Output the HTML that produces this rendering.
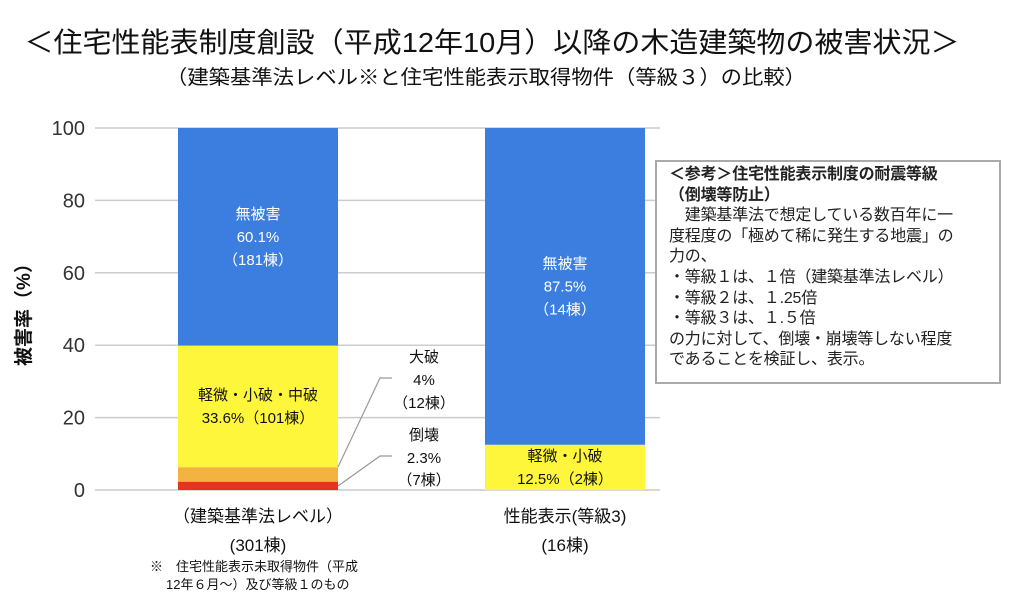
<!DOCTYPE html>
<html><head><meta charset="utf-8">
<style>
body{margin:0;width:1024px;height:606px;background:#fff;overflow:hidden;font-family:"Liberation Sans","Noto Sans CJK JP",sans-serif;}
svg text{font-family:"Liberation Sans","Noto Sans CJK JP",sans-serif;}
#note{position:absolute;left:655px;top:160px;width:346px;height:224px;border:2px solid #aaa;background:#fff;padding:3px 0 0 12px;box-sizing:border-box;font-size:16px;line-height:20.6px;color:#222;letter-spacing:-0.2px;}
</style></head><body>
<svg id="chart" width="1024" height="606" style="position:absolute;left:0;top:0">
<text x="492" y="52" font-size="28" text-anchor="middle" fill="#111" textLength="935" lengthAdjust="spacingAndGlyphs">＜住宅性能表制度創設（平成12年10月）以降の木造建築物の被害状況＞</text>
<text x="486" y="84" font-size="20" text-anchor="middle" fill="#111" textLength="640" lengthAdjust="spacingAndGlyphs">（建築基準法レベル※と住宅性能表示取得物件（等級３）の比較）</text>
<text transform="translate(30,310) rotate(-90)" font-size="19" font-weight="bold" text-anchor="middle" fill="#111">被害率（%）</text>
<g id="grid"></g><g id="bars"></g>
<polyline points="338,467 380,378 392,378" fill="none" stroke="#999" stroke-width="1.2"/>
<polyline points="338,486 380,456 392,456" fill="none" stroke="#999" stroke-width="1.2"/>
<text font-size="15" text-anchor="middle" fill="#111"><tspan x="424" y="362">大破</tspan><tspan x="424" y="385">4%</tspan><tspan x="424" y="408">（12棟）</tspan></text>
<text font-size="15" text-anchor="middle" fill="#111"><tspan x="424" y="440">倒壊</tspan><tspan x="424" y="463">2.3%</tspan><tspan x="424" y="485">（7棟）</tspan></text>
<text font-size="17" text-anchor="middle" fill="#111"><tspan x="258" y="522">（建築基準法レベル）</tspan><tspan x="258" y="551">(301棟)</tspan></text>
<text font-size="17" text-anchor="middle" fill="#111"><tspan x="565" y="522">性能表示(等級3)</tspan><tspan x="565" y="551">(16棟)</tspan></text>
<text font-size="13" fill="#111"><tspan x="150" y="571">※　住宅性能表示未取得物件（平成</tspan><tspan x="166" y="589">12年６月～）及び等級１のもの</tspan></text>
</svg>
<div id="note"><b>＜参考＞住宅性能表示制度の耐震等級<br>（倒壊等防止）</b><br>　建築基準法で想定している数百年に一<br>度程度の「極めて稀に発生する地震」の<br>力の、<br>・等級１は、１倍（建築基準法レベル）<br>・等級２は、１.25倍<br>・等級３は、１.５倍<br>の力に対して、倒壊・崩壊等しない程度<br>であることを検証し、表示。</div>
<script>
const yTicks=[0,20,40,60,80,100];
const categories=["建築基準法レベル","性能表示(等級3)"];
const seriesToukai=[2.3,0];
const seriesDaiha=[4,0];
const seriesKeibi=[33.6,12.5];
const seriesMuhigai=[60.1,87.5];
const labelsKeibi=[["軽微・小破・中破","33.6%（101棟）"],["軽微・小破","12.5%（2棟）"]];
const labelsMuhigai=[["無被害","60.1%","（181棟）"],["無被害","87.5%","（14棟）"]];
const y=v=>490-v*3.62;
const xc=i=>258+i*307;
const NS="http://www.w3.org/2000/svg";
const grid=document.getElementById('grid'),bars=document.getElementById('bars');
yTicks.forEach(t=>{
 const l=document.createElementNS(NS,'line');
 
 
 l.setAttribute('x1',95);l.setAttribute('x2',660);l.setAttribute('y1',y(t));l.setAttribute('y2',y(t));
 l.setAttribute('stroke','#ccc');l.setAttribute('stroke-width','1.5');grid.appendChild(l);
 const tx=document.createElementNS(NS,'text');
 
 
 tx.setAttribute('x',85);tx.setAttribute('y',y(t)+7);tx.setAttribute('text-anchor','end');
 tx.setAttribute('font-size','20');tx.setAttribute('fill','#333');tx.textContent=t;grid.appendChild(tx);
});
const stacks=[[seriesToukai,'#e8321e','toukai'],[seriesDaiha,'#f2b340','daiha'],[seriesKeibi,'#fdf63a','keibi'],[seriesMuhigai,'#3b7ee0','muhigai']];
categories.forEach((c,i)=>{
 let base=0;const mids={};
 stacks.forEach(([arr,col,nm])=>{
  const v=arr[i];if(v<=0)return;
  const r=document.createElementNS(NS,'rect');
  
  
  r.setAttribute('x',xc(i)-80);r.setAttribute('width',160);
  r.setAttribute('y',y(base+v));r.setAttribute('height',y(base)-y(base+v));r.setAttribute('fill',col);
  bars.appendChild(r);mids[nm]=(y(base)+y(base+v))/2;base+=v;
 });
 const addLbl=(lines,mid,color,nm)=>{
  const t=document.createElementNS(NS,'text');
  
  
  t.setAttribute('text-anchor','middle');t.setAttribute('font-size','15');t.setAttribute('fill',color);
  const start=mid-(lines.length-1)*11.5+5;
  lines.forEach((s,k)=>{const sp=document.createElementNS(NS,'tspan');sp.setAttribute('x',xc(i));sp.setAttribute('y',start+k*23);sp.textContent=s;t.appendChild(sp);});
  bars.appendChild(t);
 };
 addLbl(labelsMuhigai[i],mids.muhigai,'#fff','label-muhigai');
 addLbl(labelsKeibi[i],mids.keibi,'#111','label-keibi');
});
</script>
</body></html>
